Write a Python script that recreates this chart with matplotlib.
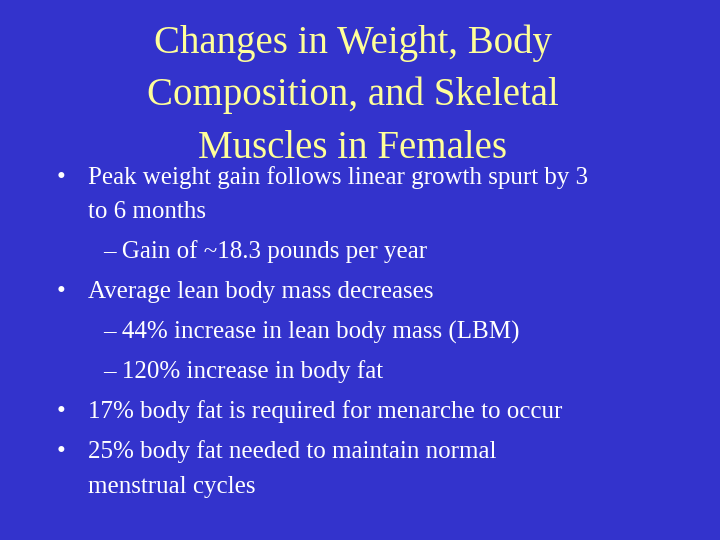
import matplotlib
matplotlib.use("Agg")
from matplotlib import pyplot as plt

plt.rcParams["font.family"] = "serif"
plt.rcParams["font.serif"] = ["Liberation Serif", "Times New Roman", "DejaVu Serif"]

# slide text
title_lines = ["Changes in Weight, Body", "Composition, and Skeletal", "Muscles in Females"]
bullets = [
    ("•", "Peak weight gain follows linear growth spurt by 3"),
    ("", "to 6 months"),
    ("–", "Gain of ~18.3 pounds per year"),
    ("•", "Average lean body mass decreases"),
    ("–", "44% increase in lean body mass (LBM)"),
    ("–", "120% increase in body fat"),
    ("•", "17% body fat is required for menarche to occur"),
    ("•", "25% body fat needed to maintain normal"),
    ("", "menstrual cycles"),
]
line_y = [178, 212, 252, 292, 332, 372, 412, 452, 487]

bg = "#3333CC"
fig = plt.figure(figsize=(7.2, 5.4), dpi=100, facecolor=bg)
ax = fig.add_axes([0, 0, 1, 1])
ax.set_xlim(0, 720)
ax.set_ylim(540, 0)
ax.axis("off")
ax.set_facecolor(bg)

for i, t in enumerate(title_lines):
    ax.text(353, 43 + i * 52.5, t, color="#FFFF99", fontsize=28, ha="center", va="center")

for (mark, txt), y in zip(bullets, line_y):
    if mark == "–":
        ax.text(103, y, "– " + txt, color="white", fontsize=18, va="center")
    else:
        if mark:
            ax.text(57, y, mark, color="white", fontsize=18, va="center")
        ax.text(88, y, txt, color="white", fontsize=18, va="center")

fig.savefig("out.png", dpi=100, facecolor=bg)
